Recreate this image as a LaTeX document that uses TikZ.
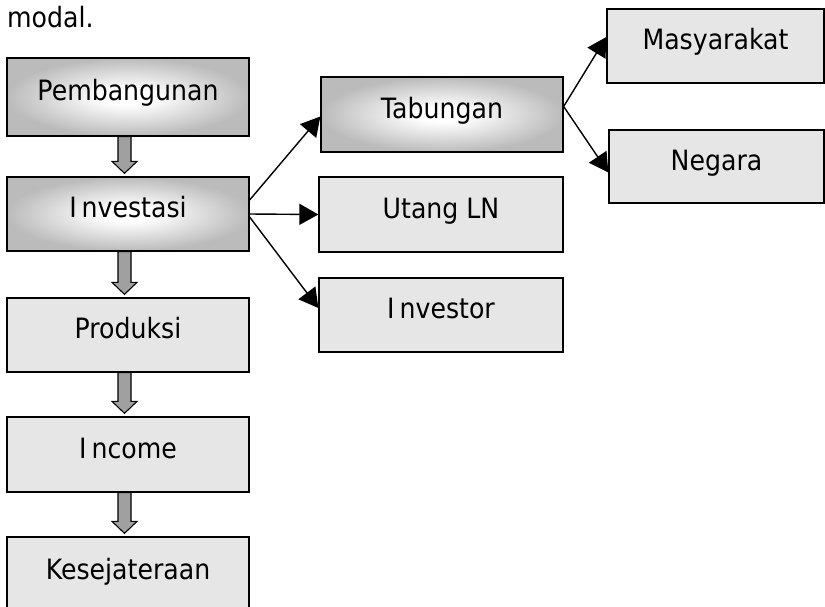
\documentclass[tikz,border=0pt]{standalone}
\usepackage{fontspec}
\setmainfont{DejaVu Sans}[FakeStretch=0.9]
\usetikzlibrary{calc,arrows.meta}
\definecolor{boxfill}{HTML}{E6E6E6}
\definecolor{arrfill}{HTML}{A0A0A0}
\definecolor{gradout}{HTML}{BBBBBB}
\pgfdeclareradialshading{boxglow}{\pgfpoint{0bp}{0bp}}{%
  color(0bp)=(white); color(5bp)=(white); color(25bp)=(gradout); color(50bp)=(gradout)}
\tikzset{
  base/.style={draw=black, line width=1.3pt, minimum width=242pt, inner sep=0pt,
    font=\fontsize{28}{32}\selectfont, text height=20pt, text depth=12.6pt},
  plainbox/.style={base, fill=boxfill},
  gradbox/.style={base, shading=boxglow},
  blk/.style={draw=black, line width=1.1pt, fill=arrfill, line join=miter},
  thin/.style={draw=black, line width=1.4pt, -{Triangle[length=19pt,width=21pt]}},
}
\newcommand\blkarr[2]{%
  \draw[blk] let \p1=($(#1.south)+(-3.5,0)$), \p2=($(#2.north)+(-3.5,0)$) in
    (\x1-6.5pt,\y1) -- (\x1-6.5pt,\y2+15pt) -- (\x1-12.5pt,\y2+15pt) --
    (\x1,\y2+3pt) -- (\x1+12.5pt,\y2+15pt) -- (\x1+6.5pt,\y2+15pt) --
    (\x1+6.5pt,\y1) -- cycle;}
\begin{document}
\begin{tikzpicture}[x=1pt,y=-1pt]
\useasboundingbox (0,0) rectangle (825,606);
\node[anchor=base west, inner sep=0pt, font=\fontsize{28}{32}\selectfont] (modal) at (7,27) {modal.};
\node[gradbox, minimum height=78pt] (pem) at (128,97) {Pembangunan};
\node[gradbox, minimum height=74pt] (inv) at (128,214) {I\kern5pt nvestasi};
\node[plainbox, minimum height=74pt] (pro) at (128,335) {Produksi};
\node[plainbox, minimum height=75pt] (inc) at (128,454.5) {I\kern5pt ncome};
\node[plainbox, minimum height=78pt] (kes) at (128,576) {Kesejateraan};
\node[gradbox, minimum height=75pt] (tab) at (442,114.5) {Tabungan};
\node[plainbox, minimum width=244pt, minimum height=75pt] (utg) at (441,214.5) {Utang LN};
\node[plainbox, minimum width=244pt, minimum height=74pt] (ivr) at (441,315) {I\kern5pt nvestor};
\node[plainbox, minimum width=217pt, minimum height=74pt] (mas) at (715.5,46) {Masyarakat};
\node[plainbox, minimum width=215pt, minimum height=73pt] (neg) at (716.5,166.5) {Negara};
\blkarr{pem}{inv}
\blkarr{inv}{pro}
\blkarr{pro}{inc}
\blkarr{inc}{kes}
\draw[thin] ([yshift=14pt]inv.east) -- ([yshift=-2pt]tab.west);
\draw[thin] (inv.east) -- (utg.west);
\draw[thin] ([yshift=-3pt]inv.east) -- ([yshift=7pt]ivr.west);
\draw[thin] ([yshift=8pt]tab.east) -- ([yshift=9pt]mas.west);
\draw[thin] ([yshift=8pt]tab.east) -- ([yshift=-6pt]neg.west);
\end{tikzpicture}
\end{document}
